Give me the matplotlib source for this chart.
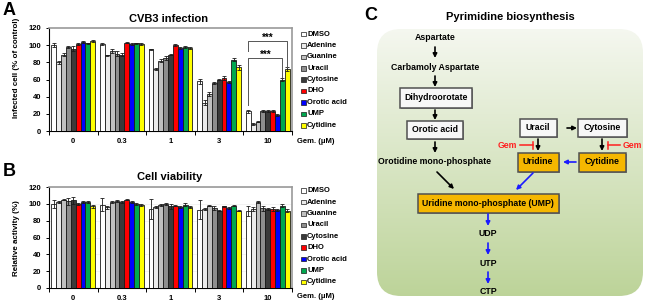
import numpy as np
import matplotlib
matplotlib.use('Agg')
import matplotlib.pyplot as plt
from matplotlib.patches import Rectangle, FancyBboxPatch

plt.rcParams['font.family'] = ['Liberation Sans', 'DejaVu Sans']
plt.rcParams['font.weight'] = 'bold'

doses = ['0', '0.3', '1', '3', '10']
treatments = ['DMSO', 'Adenine', 'Guanine', 'Uracil', 'Cytosine', 'DHO', 'Orotic acid', 'UMP', 'Cytidine']
colors = ['#ffffff', '#ebebeb', '#c0c0c0', '#8e8e8e', '#3a3a3a', '#ff0000', '#0000ff', '#00a84f', '#ffff00']

# A: infected cells (% of control), one row per dose
infect_mean = np.array([
    [100, 80, 89, 98, 96, 101, 104, 102, 105],
    [101, 88, 93, 90, 89, 103, 101, 102, 101],
    [95, 72, 82, 85, 89, 100, 97, 98, 97],
    [58, 33, 43, 56, 60, 62, 57, 83, 74],
    [23, 8, 11, 23, 23, 23, 19, 60, 72],
])
infect_err = np.array([
    [2, 2, 2, 1, 3, 1, 1, 1, 1],
    [1, 1, 2, 3, 2, 1, 1, 1, 1],
    [1, 1, 2, 2, 1, 1, 1, 1, 1],
    [3, 3, 2, 1, 1, 2, 1, 2, 3],
    [2, 1, 1, 1, 1, 1, 1, 2, 2],
])

# B: cell viability (%)
viab_mean = np.array([
    [100, 102, 105, 103, 104, 100, 102, 102, 97],
    [99, 96, 102, 103, 102, 105, 102, 100, 99],
    [94, 96, 99, 100, 97, 98, 96, 99, 96],
    [93, 94, 98, 95, 92, 97, 95, 98, 92],
    [91, 94, 102, 95, 94, 94, 93, 98, 92],
])
viab_err = np.array([
    [5, 1, 1, 4, 4, 1, 1, 1, 2],
    [8, 2, 1, 1, 1, 1, 1, 1, 1],
    [12, 1, 1, 1, 3, 1, 1, 2, 1],
    [11, 1, 1, 2, 1, 1, 1, 1, 1],
    [6, 2, 1, 3, 1, 2, 1, 2, 2],
])

W, H = 650, 308
fig = plt.figure(figsize=(6.5, 3.08), dpi=100)


def bar_panel(rect, mean, err, grid=False):
    ax = fig.add_axes(rect)
    x = np.arange(len(doses))
    bw = 0.1
    for j in range(len(treatments)):
        ax.bar(x + (j - 4) * bw, mean[:, j], bw, color=colors[j], edgecolor='#1a1a1a', lw=0.6,
               yerr=err[:, j], error_kw=dict(lw=0.6, capsize=1.3, capthick=0.6, ecolor='#1a1a1a'), zorder=3)
    ax.set_xlim(-0.5, 4.5)
    ax.set_ylim(0, 120)
    ax.set_yticks(range(0, 121, 20))
    ax.set_xticks(x)
    ax.set_xticklabels(doses)
    ax.set_xticks(np.arange(-0.5, 4.6, 1), minor=True)
    ax.tick_params(axis='x', which='major', length=0, pad=5, labelsize=5.5)
    ax.tick_params(axis='x', which='minor', length=3, width=0.7, direction='out')
    ax.tick_params(axis='y', length=2.5, width=0.7, pad=3, labelsize=5.5)
    for s in ['top', 'right']:
        ax.spines[s].set_color('#9a9a9a')
        ax.spines[s].set_linewidth(1.2)
    for s in ['left', 'bottom']:
        ax.spines[s].set_color('black')
        ax.spines[s].set_linewidth(0.8)
    if grid:
        ax.yaxis.grid(True, color='#eeeeee', lw=0.5, zorder=0)
    return ax


axA = bar_panel([49 / W, 1 - 131 / H, 243 / W, 103 / H], infect_mean, infect_err)
axB = bar_panel([49 / W, 1 - 288 / H, 243 / W, 101 / H], viab_mean, viab_err, grid=True)

# significance brackets on panel A (10 uM group)
g = 4
xd, xu, xc = g - 0.4, g + 0.3, g + 0.4
axA.plot([xd, xd, xc, xc], [93, 105, 105, 75], color='#555555', lw=0.7, zorder=4)
axA.plot([xd, xd, xu, xu], [30, 85, 85, 63], color='#555555', lw=0.7, zorder=4)
axA.text((xd + xc) / 2, 109, '***', ha='center', va='center', fontsize=7)
axA.text((xd + xu) / 2, 89, '***', ha='center', va='center', fontsize=7)

# overlay in pixel coordinates
ov = fig.add_axes([0, 0, 1, 1], facecolor='none')
ov.set_xlim(0, W)
ov.set_ylim(H, 0)
ov.axis('off')

ov.text(3, 15, 'A', fontsize=13, ha='left', va='baseline')
ov.text(3, 176, 'B', fontsize=13, ha='left', va='baseline')
ov.text(364, 20, 'C', fontsize=13, ha='left', va='baseline')
ov.text(169, 19, 'CVB3 infection', fontsize=8, ha='center', va='center')
ov.text(170, 177, 'Cell viability', fontsize=8, ha='center', va='center')
ov.text(17, 68, 'Infected cell (% of control)', fontsize=5.8, rotation=90, ha='center', va='center')
ov.text(17, 238, 'Relative activity (%)', fontsize=5.8, rotation=90, ha='center', va='center')
ov.text(297, 141.5, 'Gem. (\u03bcM)', fontsize=5.5, ha='left', va='center')
ov.text(297, 297, 'Gem. (\u03bcM)', fontsize=5.5, ha='left', va='center')

for y0 in (34, 190.7):
    for j, t in enumerate(treatments):
        y = y0 + j * 11.4
        ov.add_patch(Rectangle((301, y - 2.3), 4.6, 4.6, fc=colors[j], ec='#1a1a1a', lw=0.5))
        ov.text(307, y, t, fontsize=5.5, ha='left', va='center')

# panel C: pyrimidine pathway
ov.text(510, 17, 'Pyrimidine biosynthesis', fontsize=8, ha='center', va='center')

bg = FancyBboxPatch((377, 29), 266, 267, boxstyle='round,pad=0,rounding_size=24',
                    fc='none', ec='none')
ov.add_patch(bg)
top = np.array([0.96, 0.97, 0.94])
bot = np.array([0.74, 0.83, 0.60])
t = np.linspace(0, 1, 200)[:, None]
grad = (top + (bot - top) * t)[:, None, :]
im = ov.imshow(grad, extent=(377, 643, 296, 29), aspect='auto', zorder=0)
im.set_clip_path(bg)
ov.set_xlim(0, W)
ov.set_ylim(H, 0)

fs = 6.3
plain = [('Aspartate', 435, 38), ('Carbamoly Aspartate', 435, 67),
         ('Orotidine mono-phosphate', 435, 162), ('UDP', 488, 234),
         ('UTP', 488, 263), ('CTP', 488, 292)]
boxes = [('Dihydroorotate', 436, 98, 72, 20, '#f7f7f7'), ('Orotic acid', 435, 130, 56, 18, '#f7f7f7'),
         ('Uracil', 538, 128, 37, 18, '#f7f7f7'), ('Cytosine', 602, 128, 49, 18, '#f7f7f7'),
         ('Uridine', 538, 162, 41, 19, '#f5b700'), ('Cytidine', 602, 162, 47, 19, '#f5b700'),
         ('Uridine mono-phosphate (UMP)', 488, 203, 141, 19, '#f5b700')]
for s, x, y in plain:
    ov.text(x, y, s, fontsize=fs, ha='center', va='center', zorder=3)
for s, x, y, w, h, fc in boxes:
    ov.add_patch(Rectangle((x - w / 2 + 1, y - h / 2 + 1), w, h, fc='#8a8a8a', ec='none', zorder=2))
    ov.add_patch(Rectangle((x - w / 2, y - h / 2), w, h, fc=fc, ec='#505050', lw=1.1, zorder=3))
    ov.text(x, y, s, fontsize=fs, ha='center', va='center', zorder=4)

black_arrows = [((435, 47), (435, 58)), ((435, 76), (435, 87)), ((435, 110), (435, 120)),
                ((435, 142), (435, 153)), ((567, 128), (577, 128)), ((538, 139), (538, 151)),
                ((602, 139), (602, 151)), ((437, 172), (454, 189))]
blue_arrows = [((576, 162), (563, 162)), ((533, 173), (516, 190)), ((488, 214), (488, 226)),
               ((488, 243), (488, 255)), ((488, 272), (488, 284))]
for arrows, c in ((black_arrows, 'black'), (blue_arrows, '#1a1aff')):
    for a, b in arrows:
        ov.annotate('', xy=b, xytext=a, zorder=4,
                    arrowprops=dict(arrowstyle='-|>', color=c, lw=1.2, mutation_scale=6,
                                    shrinkA=0, shrinkB=0))

red = '#ff2020'
ov.text(517, 145, 'Gem', color=red, fontsize=fs, ha='right', va='center')
ov.plot([520, 533], [145, 145], color=red, lw=1.1)
ov.plot([533, 533], [141.5, 148.5], color=red, lw=1.1)
ov.text(623, 145, 'Gem', color=red, fontsize=fs, ha='left', va='center')
ov.plot([608, 620], [145, 145], color=red, lw=1.1)
ov.plot([608, 608], [141.5, 148.5], color=red, lw=1.1)

fig.savefig('out.png', dpi=100)
